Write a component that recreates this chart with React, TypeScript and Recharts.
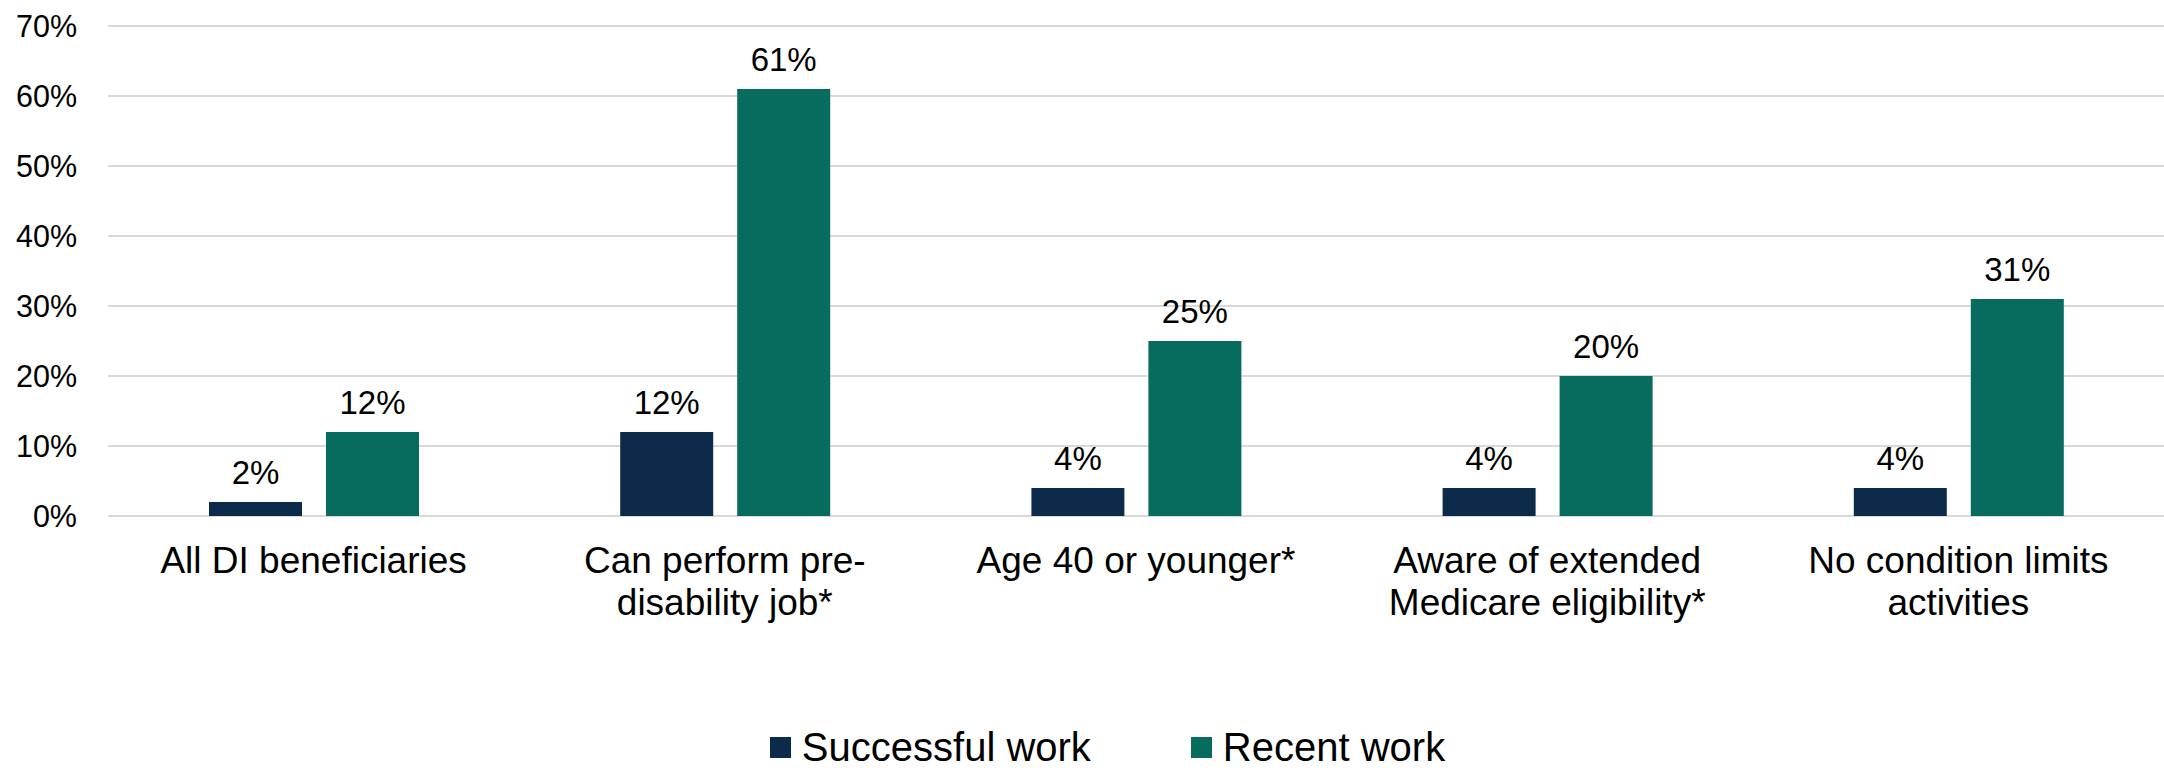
import React from 'react';
import { BarChart, Bar, XAxis, YAxis, CartesianGrid, Legend, LabelList } from 'recharts';

const categories = [
  'All DI beneficiaries',
  'Can perform pre-disability job*',
  'Age 40 or younger*',
  'Aware of extended Medicare eligibility*',
  'No condition limits activities',
];

// how each category label wraps under the axis
const categoryLines = [
  ['All DI beneficiaries'],
  ['Can perform pre-', 'disability job*'],
  ['Age 40 or younger*'],
  ['Aware of extended', 'Medicare eligibility*'],
  ['No condition limits', 'activities'],
];

const successfulWork = [2, 12, 4, 4, 4];
const recentWork = [12, 61, 25, 20, 31];

const yTicks = [0, 10, 20, 30, 40, 50, 60, 70];

const seriesNames = ['Successful work', 'Recent work'];
const seriesColors = ['#0c2a4a', '#076c5e'];

const data = categories.map((name, i) => ({
  name,
  successful: successfulWork[i],
  recent: recentWork[i],
}));

const FONT = '"Liberation Sans", Arial, sans-serif';

const CategoryTick = (props: any) => {
  const { x, y, index } = props;
  const lines = categoryLines[index] || [];
  return (
    <text textAnchor="middle" fontFamily={FONT} fontSize={37} fill="#000">
      {lines.map((line, i) => (
        <tspan key={i} x={x} y={y + 57 + i * 42}>
          {line}
        </tspan>
      ))}
    </text>
  );
};

const renderLegend = () => (
  <div
    style={{
      height: 50,
      display: 'flex',
      alignItems: 'center',
      justifyContent: 'center',
      paddingLeft: 51,
      fontFamily: FONT,
      fontSize: 40,
      lineHeight: 1,
      color: '#000',
    }}
  >
    {seriesNames.map((name, i) => (
      <div key={name} style={{ display: 'flex', alignItems: 'center', marginRight: i === 0 ? 100 : 0 }}>
        <span style={{ width: 21, height: 21, background: seriesColors[i], marginRight: 11, display: 'inline-block' }} />
        <span>{name}</span>
      </div>
    ))}
  </div>
);

export default function App() {
  return (
    <div style={{ position: 'absolute', left: 0, top: 0, background: '#fff' }}>
      <BarChart
        width={2164}
        height={772}
        data={data}
        margin={{ top: 26, right: 0, left: 0, bottom: 0 }}
        barGap={24}
      >
        <CartesianGrid vertical={false} stroke="#d9d9d9" strokeWidth={2} />
        <XAxis
          dataKey="name"
          height={206}
          axisLine={false}
          tickLine={false}
          tickSize={0}
          tickMargin={0}
          interval={0}
          tick={<CategoryTick />}
        />
        <YAxis
          width={108}
          domain={[0, 70]}
          ticks={yTicks}
          axisLine={false}
          tickLine={false}
          tickSize={0}
          tickMargin={31}
          tickFormatter={(v: number) => `${v}%`}
          tick={{ fontFamily: FONT, fontSize: 30.5, fill: '#000' }}
        />
        <Legend verticalAlign="bottom" content={renderLegend} />
        <Bar dataKey="successful" name={seriesNames[0]} fill={seriesColors[0]} barSize={93} isAnimationActive={false}>
          <LabelList
            dataKey="successful"
            position="top"
            offset={18}
            formatter={(v: any) => `${v}%`}
            style={{ fontFamily: FONT, fontSize: 33, fill: '#000' }}
          />
        </Bar>
        <Bar dataKey="recent" name={seriesNames[1]} fill={seriesColors[1]} barSize={93} isAnimationActive={false}>
          <LabelList
            dataKey="recent"
            position="top"
            offset={18}
            formatter={(v: any) => `${v}%`}
            style={{ fontFamily: FONT, fontSize: 33, fill: '#000' }}
          />
        </Bar>
      </BarChart>
    </div>
  );
}
